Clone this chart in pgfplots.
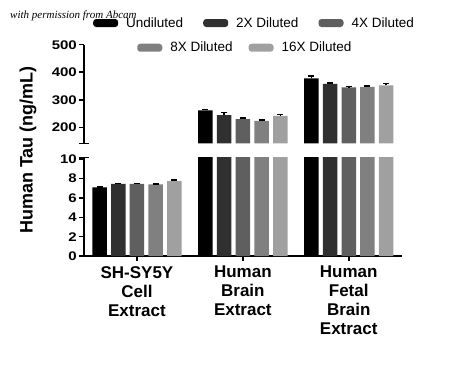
\documentclass[border=0pt]{standalone}
\usepackage{pgfplots}
\pgfplotsset{compat=1.18}
\usepackage{pgfplotstable}
\usepackage{fontspec}
\setmainfont{Liberation Sans}
\newfontfamily\tickfont{Liberation Sans}[FakeStretch=1.2]
\newfontfamily\wmfont{Liberation Serif}
\definecolor{c1}{HTML}{000000}
\definecolor{c2}{HTML}{303030}
\definecolor{c3}{HTML}{5F5F5F}
\definecolor{c4}{HTML}{808080}
\definecolor{c5}{HTML}{A0A0A0}
% x, value, error (upper error only)
\pgfplotstableread{
x y e
0 7.10 0.03
1 262 3
2 378 8
}\tA
\pgfplotstableread{
x y e
0 7.45 0.05
1 244 9
2 358 3
}\tB
\pgfplotstableread{
x y e
0 7.45 0.06
1 230 3
2 345 3
}\tC
\pgfplotstableread{
x y e
0 7.40 0.05
1 223 3
2 347 3
}\tD
\pgfplotstableread{
x y e
0 7.75 0.08
1 242 4
2 352 8
}\tE
\pgfplotsset{
  bstyle/.style={fill=#1, draw=none, error bars/.cd, y dir=plus, y explicit,
    error bar style={line width=1.5pt, black},
    error mark options={rotate=90, line width=1.5pt, mark size=3pt, black}},
  legimg/.style={fill=#1, draw=none, legend image code/.code={\fill[rounded corners=3pt] (0pt,-4pt) rectangle (25pt,4pt);}},
  common/.style={scale only axis, width=317.7pt, xmin=-0.5, xmax=2.5, ybar, bar width=14.5pt,
    tick align=outside, major tick length=5pt,
    every tick/.style={line width=1.5pt, black},
    axis line style={line width=1.5pt, black},
    /pgf/number format/assume math mode=true,
    yticklabel style={font=\tickfont\bfseries\fontsize{12.5}{15}\selectfont, inner sep=2pt},
    extra y tick style={tick align=center, major tick length=10pt},
    legend style={draw=none, fill=none, inner sep=0pt, font=\fontsize{13.5}{16}\selectfont,
      /tikz/every odd column/.append style={column sep=6pt}},
  },
}
\begin{document}
\begin{tikzpicture}
\useasboundingbox (0,0) rectangle (450pt,-370pt);
% upper segment
\begin{axis}[common, at={(84pt,-143.3pt)}, anchor=south west, height=98.6pt,
  ymin=142, ymax=500, ytick={200,300,400,500}, extra y ticks={142}, extra y tick labels={},
  axis x line=none, axis y line*=left,
  legend columns=3, legend style={at={(0.0283,1.22)}, anchor=west,
    /tikz/every even column/.append style={column sep=18pt}}]
\addlegendimage{legimg=c1}\addlegendentry{Undiluted}
\addlegendimage{legimg=c2}\addlegendentry{2X Diluted}
\addlegendimage{legimg=c3}\addlegendentry{4X Diluted}
\addplot[bar shift=-37.4pt, bstyle=c1] table[x=x, y=y, y error=e, skip coords between index={0}{1}] \tA;
\addplot[bar shift=-18.7pt, bstyle=c2] table[x=x, y=y, y error=e, skip coords between index={0}{1}] \tB;
\addplot[bar shift=0pt, bstyle=c3] table[x=x, y=y, y error=e, skip coords between index={0}{1}] \tC;
\addplot[bar shift=18.7pt, bstyle=c4] table[x=x, y=y, y error=e, skip coords between index={0}{1}] \tD;
\addplot[bar shift=37.4pt, bstyle=c5] table[x=x, y=y, y error=e, skip coords between index={0}{1}] \tE;
\end{axis}
% lower segment
\begin{axis}[common, at={(84pt,-256pt)}, anchor=south west, height=98.7pt,
  ymin=0, ymax=10.2, ytick={0,2,4,6,8,10}, extra y ticks={10.2}, extra y tick labels={},
  axis x line*=bottom, axis y line*=left,
  xtick={0,1,2}, xticklabels={{SH-SY5Y\\Cell\\Extract},{Human\\Brain\\Extract},{Human\\Fetal\\Brain\\Extract}},
  xticklabel style={align=center, font=\bfseries\fontsize{17}{19}\selectfont, inner sep=5pt},
  legend columns=2, legend style={at={(0.167,2.11)}, anchor=west,
    /tikz/every even column/.append style={column sep=14pt}}]
\addlegendimage{legimg=c4}\addlegendentry{8X Diluted}
\addlegendimage{legimg=c5}\addlegendentry{16X Diluted}
\addplot[bar shift=-37.4pt, bstyle=c1] table[x=x, y=y, y error=e] \tA;
\addplot[bar shift=-18.7pt, bstyle=c2] table[x=x, y=y, y error=e] \tB;
\addplot[bar shift=0pt, bstyle=c3] table[x=x, y=y, y error=e] \tC;
\addplot[bar shift=18.7pt, bstyle=c4] table[x=x, y=y, y error=e] \tD;
\addplot[bar shift=37.4pt, bstyle=c5] table[x=x, y=y, y error=e] \tE;
\end{axis}
\node[rotate=90, font=\bfseries\fontsize{18}{21}\selectfont] at (28pt,-150pt) {Human Tau (ng/mL)};
\node[anchor=west, font=\wmfont\itshape\fontsize{11}{13}\selectfont, inner sep=0pt] at (10pt,-16pt) {with permission from Abcam};
\end{tikzpicture}
\end{document}
